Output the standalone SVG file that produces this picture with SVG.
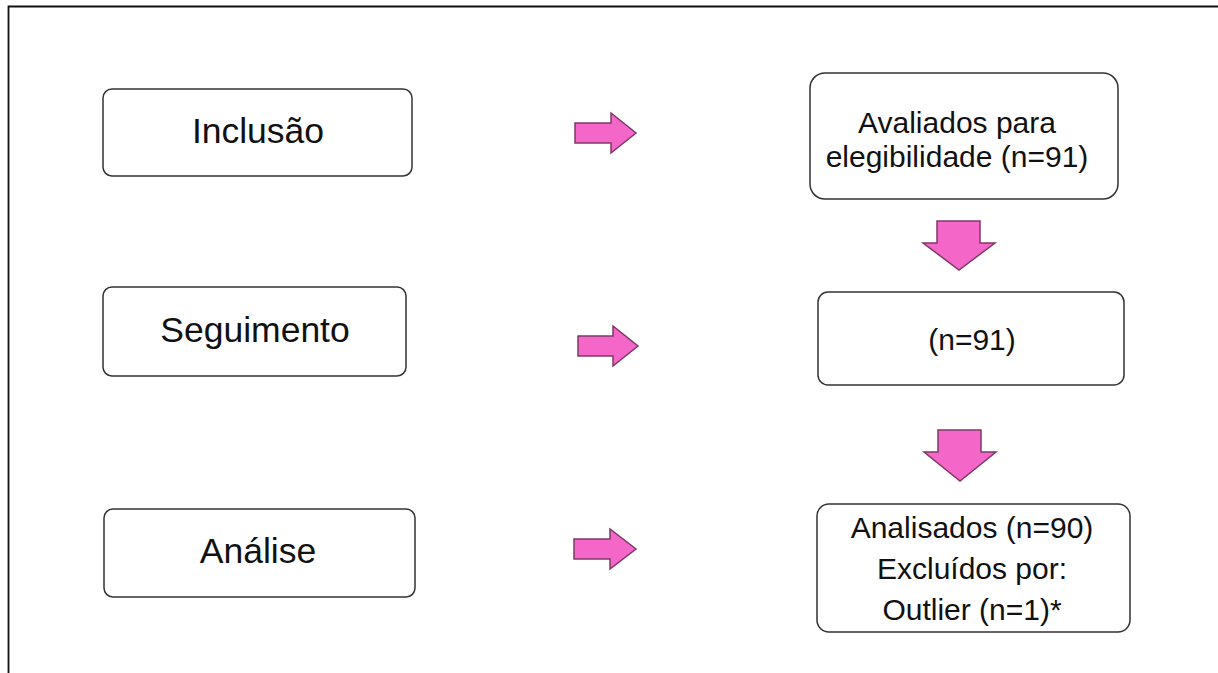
<svg xmlns="http://www.w3.org/2000/svg" width="1218" height="673" viewBox="0 0 1218 673">
<style>
.box{fill:#fff;stroke:#333;stroke-width:1.5}
.lbl{font-family:"Liberation Sans",Arial,sans-serif;fill:#111;text-anchor:middle}
.l{font-size:35.5px}
.r{font-size:30px}
.arr{fill:#f466c8;stroke:#7d3a68;stroke-width:1.5;stroke-linejoin:miter}
</style>
<rect width="1218" height="673" fill="#fff"/>
<path d="M8.5 673 V6.5 H1218" fill="none" stroke="#111" stroke-width="1.8"/>
<g id="inclusao"><rect class="box" x="103" y="89" width="309" height="87" rx="9"/><text class="lbl l" x="258" y="143">Inclusão</text></g>
<g id="seguimento"><rect class="box" x="103" y="287" width="303" height="89" rx="9"/><text class="lbl l" x="255" y="342">Seguimento</text></g>
<g id="analise"><rect class="box" x="104" y="509" width="311" height="88" rx="9"/><text class="lbl l" x="258" y="563">Análise</text></g>
<g id="avaliados"><rect class="box" x="810" y="73" width="308" height="126" rx="15"/><text class="lbl r" x="957" y="133">Avaliados para</text><text class="lbl r" x="957" y="167">elegibilidade  (n=91)</text></g>
<g id="n91"><rect class="box" x="818" y="292" width="306" height="93" rx="10"/><text class="lbl r" x="972" y="350">(n=91)</text></g>
<g id="analisados"><rect class="box" x="817" y="504" width="313" height="128" rx="12"/><text class="lbl r" x="972" y="538">Analisados (n=90)</text><text class="lbl r" x="972" y="579">Excluídos por:</text><text class="lbl r" x="972" y="620">Outlier (n=1)*</text></g>
<g id="connectors">
<polygon class="arr" points="575,123 611,123 611,113 636,133 611,153 611,143 575,143"/>
<polygon class="arr" points="578,336 613,336 613,326 638,346 613,366 613,356 578,356"/>
<polygon class="arr" points="574,539 610,539 610,529 636,549 610,569 610,559 574,559"/>
<polygon class="arr" points="937,221 980,221 980,243 995,243 959,270 923,243 937,243"/>
<polygon class="arr" points="938,430 981,430 981,452 996,452 960,481 924,452 938,452"/>
</g>
</svg>
